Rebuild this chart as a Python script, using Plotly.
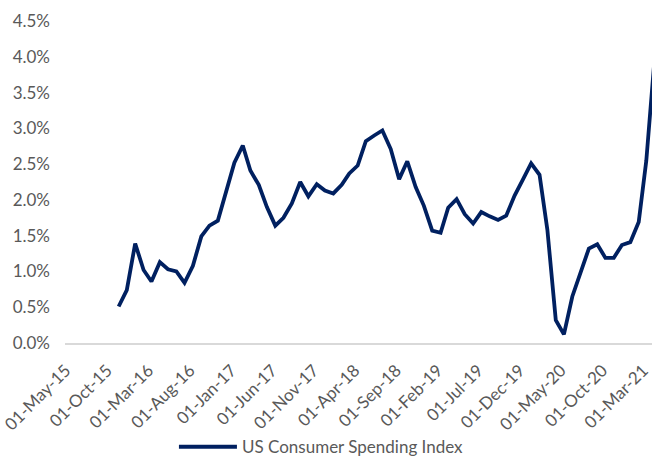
import plotly.graph_objects as go

months = [
    "2015-11-01", "2015-12-01",
    "2016-01-01", "2016-02-01", "2016-03-01", "2016-04-01", "2016-05-01", "2016-06-01",
    "2016-07-01", "2016-08-01", "2016-09-01", "2016-10-01", "2016-11-01", "2016-12-01",
    "2017-01-01", "2017-02-01", "2017-03-01", "2017-04-01", "2017-05-01", "2017-06-01",
    "2017-07-01", "2017-08-01", "2017-09-01", "2017-10-01", "2017-11-01", "2017-12-01",
    "2018-01-01", "2018-02-01", "2018-03-01", "2018-04-01", "2018-05-01", "2018-06-01",
    "2018-07-01", "2018-08-01", "2018-09-01", "2018-10-01", "2018-11-01", "2018-12-01",
    "2019-01-01", "2019-02-01", "2019-03-01", "2019-04-01", "2019-05-01", "2019-06-01",
    "2019-07-01", "2019-08-01", "2019-09-01", "2019-10-01", "2019-11-01", "2019-12-01",
    "2020-01-01", "2020-02-01", "2020-03-01", "2020-04-01", "2020-05-01", "2020-06-01",
    "2020-07-01", "2020-08-01", "2020-09-01", "2020-10-01", "2020-11-01", "2020-12-01",
    "2021-01-01", "2021-02-01", "2021-03-01", "2021-04-01",
]

spending_index = [
    0.51, 0.74,
    1.39, 1.02, 0.86, 1.13, 1.03, 1.00,
    0.84, 1.08, 1.49, 1.64, 1.71, 2.10,
    2.52, 2.76, 2.41, 2.21, 1.90, 1.64,
    1.75, 1.95, 2.25, 2.05, 2.22, 2.13,
    2.09, 2.21, 2.37, 2.48, 2.82, 2.90,
    2.97, 2.71, 2.29, 2.54, 2.18, 1.92,
    1.57, 1.54, 1.89, 2.01, 1.80, 1.67,
    1.83, 1.77, 1.72, 1.78, 2.06, 2.28,
    2.51, 2.35, 1.58, 0.32, 0.12, 0.65,
    0.98, 1.32, 1.38, 1.19, 1.19, 1.37,
    1.41, 1.69, 2.55, 4.00,
]

x_tick_dates = [
    "2015-05-01", "2015-10-01", "2016-03-01", "2016-08-01", "2017-01-01",
    "2017-06-01", "2017-11-01", "2018-04-01", "2018-09-01", "2019-02-01",
    "2019-07-01", "2019-12-01", "2020-05-01", "2020-10-01", "2021-03-01",
]
x_tick_labels = [
    "01-May-15", "01-Oct-15", "01-Mar-16", "01-Aug-16", "01-Jan-17",
    "01-Jun-17", "01-Nov-17", "01-Apr-18", "01-Sep-18", "01-Feb-19",
    "01-Jul-19", "01-Dec-19", "01-May-20", "01-Oct-20", "01-Mar-21",
]
y_tick_values = [0.0, 0.5, 1.0, 1.5, 2.0, 2.5, 3.0, 3.5, 4.0, 4.5]
y_tick_labels = ["0.0%", "0.5%", "1.0%", "1.5%", "2.0%", "2.5%", "3.0%", "3.5%", "4.0%", "4.5%"]

series_name = "US Consumer Spending Index"
line_color = "#002060"
label_color = "#595959"
font_family = "Lato, 'Open Sans', sans-serif"

fig = go.Figure()
fig.add_trace(go.Scatter(
    x=months, y=spending_index, mode="lines", name=series_name,
    line=dict(color=line_color, width=3.8),
    showlegend=True,
))

fig.update_layout(
    width=652, height=462,
    margin=dict(l=65, r=0, t=21, b=119, autoexpand=False),
    paper_bgcolor="white", plot_bgcolor="white",
    font=dict(family=font_family, size=17, color=label_color),
    showlegend=True,
    legend=dict(
        orientation="h", xref="container", yref="container",
        x=0.493, xanchor="center", y=0.032, yanchor="middle",
        font=dict(size=17, color=label_color),
        itemwidth=58,
    ),
    xaxis=dict(
        type="date", automargin=False,
        range=["2015-04-17", "2021-03-22"],
        tickmode="array", tickvals=x_tick_dates, ticktext=x_tick_labels,
        tickangle=-45, showgrid=False, zeroline=False,
        showline=True, linecolor="#d9d9d9", linewidth=1.5,
        ticks="", ticklabelstandoff=9, ticklabelshift=-3,
        ticklabeloverflow="allow",
        tickfont=dict(size=17, color=label_color),
    ),
    yaxis=dict(
        automargin=False,
        range=[0, 4.5],
        tickmode="array", tickvals=y_tick_values, ticktext=y_tick_labels,
        showgrid=False, zeroline=False, showline=False,
        ticks="", ticklabelstandoff=14,
        tickfont=dict(size=17, color=label_color),
    ),
)

fig.write_html("out.html")
